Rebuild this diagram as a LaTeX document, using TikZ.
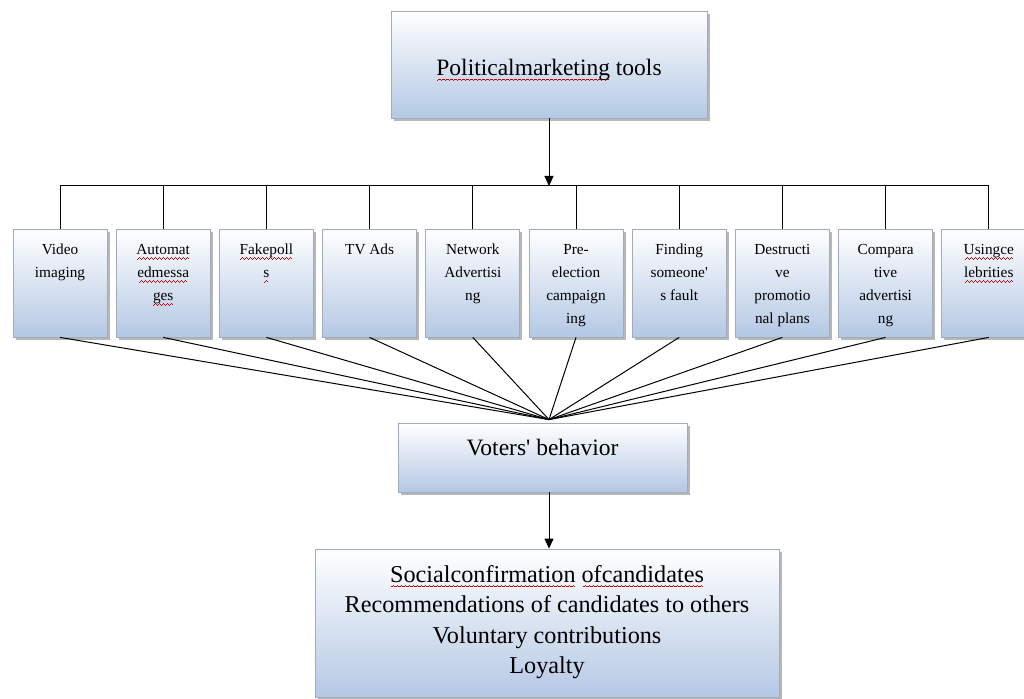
\documentclass[tikz,border=0pt]{standalone}
\usepackage{fontspec}
\setmainfont{Liberation Serif}
\usetikzlibrary{shadows,arrows.meta}
\definecolor{boxblue}{RGB}{180,200,228}
\definecolor{boxedge}{RGB}{160,172,190}
% red wavy underline of the spell checker
\newcommand{\spellwave}[1]{\setbox0=\hbox{#1}\rlap{\color{red!80!black}\hbox to \wd0{\cleaders\hbox{\rule[-5pt]{1pt}{0.8pt}\rule[-4.2pt]{1pt}{0.8pt}\rule[-3.4pt]{1pt}{0.8pt}\rule[-4.2pt]{1pt}{0.8pt}}\hfill}}\box0\relax}

\begin{document}
\begin{tikzpicture}[x=1pt, y=1pt,
  blueshade/.style={draw=boxedge, line width=0.8pt, top color=white, bottom color=boxblue,
    drop shadow={shadow xshift=2.5pt, shadow yshift=-3pt, fill=gray!80, opacity=0.7}},
  toolbox/.style={blueshade, minimum width=94pt, minimum height=108pt, inner sep=0pt},
  tooltext/.style={anchor=north, yshift=-10pt, inner sep=0pt, align=center,
    font=\fontsize{15.3}{23}\selectfont},
  bigtext/.style={font=\fontsize{23.5}{30}\selectfont},
  link/.style={line width=1pt},
  arrow/.style={link, -{Triangle[length=10pt,width=9pt]}}]
  \useasboundingbox (0,0) rectangle (1024,698);
  \clip (0,0) rectangle (1024,698);

  \node[blueshade, bigtext, minimum width=316pt, minimum height=107pt, text height=28pt, text depth=5pt]
    (tools) at (549,633.5) {\spellwave{Politicalmarketing} tools};
  \coordinate (hub) at (549,512);

  \foreach \i/\txt in {1/{Video\\imaging},
      2/{\spellwave{Automat}\\\spellwave{edmessa}\\\spellwave{ges}},
      3/{\spellwave{Fakepoll}\\\spellwave{s}},
      4/{TV Ads},
      5/{Network\\Advertisi\\ng},
      6/{Pre-\\election\\campaign\\ing},
      7/{Finding\\someone\textquotesingle\\s fault},
      8/{Destructi\\ve\\promotio\\nal plans},
      9/{Compara\\tive\\advertisi\\ng},
      10/{\spellwave{Usingce}\\\spellwave{lebrities}}}
    \node[toolbox, label={[tooltext]north:{\strut\txt}}] (t\i) at ({60+(\i-1)*103.2},415) {};

  \node[blueshade, bigtext, minimum width=289pt, minimum height=69pt, text height=16pt, text depth=19pt]
    (voters) at (542.5,240.5) {Voters\textquotesingle\ behavior};
  \coordinate (focus) at ([yshift=3pt]voters.north -| tools.south);

  \node[blueshade, minimum width=464pt, minimum height=148pt, inner sep=0pt,
    label={[anchor=north, yshift=-12pt, inner sep=0pt, align=center, font=\fontsize{24.2}{30.5}\selectfont]north:{\strut
      \spellwave{Socialconfirmation} \spellwave{ofcandidates}\\
      Recommendations of candidates to others\\
      Voluntary contributions\\
      Loyalty}}]
    (results) at (547,75) {};

  \draw[arrow] (tools.south) -- (hub);
  \draw[link] (t1.north |- hub) -- (t10.north |- hub);
  \foreach \i in {1,...,10} {
    \draw[link] (t\i.north) -- (t\i.north |- hub);
    \draw[link] (t\i.south) -- (focus);
  }
  \draw[arrow] (voters.south -| tools.south) -- (results.north -| tools.south);
\end{tikzpicture}
\end{document}
